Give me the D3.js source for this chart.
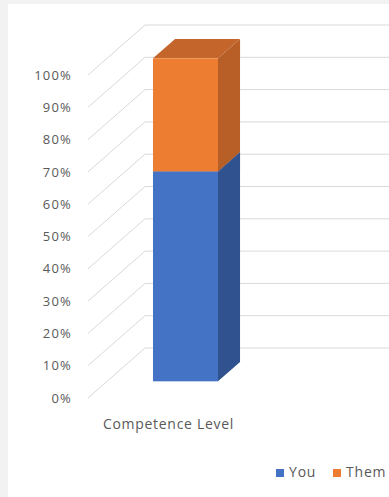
<!DOCTYPE html>
<html>
<head>
<meta charset="utf-8">
<script src="https://cdn.jsdelivr.net/npm/d3@7"></script>
<style>
html,body{margin:0;padding:0;background:#f2f2f2;}
svg{display:block;}
</style>
</head>
<body>
<svg id="chart" width="389" height="497"></svg>
<script>
const categories = ["Competence Level"];
const seriesNames = ["You", "Them"];
const youValues = [0.65];
const themValues = [0.35];
const tickValues = [0, 0.1, 0.2, 0.3, 0.4, 0.5, 0.6, 0.7, 0.8, 0.9, 1.0];

const W = 389, H = 497;
const svg = d3.select("#chart");
svg.append("rect").attr("x", 8).attr("y", 4).attr("width", W - 8).attr("height", H - 4).attr("fill", "#ffffff");

// oblique 3D projection: depth z in [0,1]
const DX = 57, DY = 50;
const y = d3.scaleLinear().domain([0, 1]).range([398, 75]);
const x = d3.scaleBand().domain(categories).range([88, 245]).paddingInner(0).paddingOuter(0.708);
const P = (px, v, z) => [px + z * DX, y(v) - z * DY];

const fmt = d3.format(".0%");
const gridColor = "#d9d9d9";
const g = svg.append("g");

// gridlines: left wall diagonals + back wall horizontals
tickValues.forEach(t => {
  const a = P(88, t, 0), b = P(88, t, 1);
  g.append("line").attr("x1", a[0]).attr("y1", a[1]).attr("x2", b[0]).attr("y2", b[1])
    .attr("stroke", gridColor).attr("stroke-width", 1);
  g.append("line").attr("x1", b[0]).attr("y1", b[1]).attr("x2", W + 5).attr("y2", b[1])
    .attr("stroke", gridColor).attr("stroke-width", 1);
});

// axis labels
const axis = d3.axisLeft(y).tickValues(tickValues).tickFormat(fmt).tickSize(0).tickPadding(0);
const ax = svg.append("g").attr("transform", "translate(72,0)").call(axis);
ax.select(".domain").remove();
ax.selectAll("text").attr("fill", "#595959").style("font-family", "'Open Sans', sans-serif")
  .style("font-size", "13px").style("letter-spacing", "1.2px");

// bars
const colors = {
  You: { front: "#4472c4", side: "#30528f", top: "#3a62a8" },
  Them: { front: "#ed7d31", side: "#b75f27", top: "#c4652b" }
};
const stackData = categories.map((c, i) => ({ cat: c, You: youValues[i], Them: themValues[i] }));
const stack = d3.stack().keys(seriesNames)(stackData);
const z0 = 1 / 3, z1 = 0.72;
const poly = pts => pts.map(p => p.join(",")).join(" ");
const bars = svg.append("g");
stack.forEach(layer => {
  const key = layer.key;
  layer.forEach(d => {
    const x0 = x(d.data.cat), x1 = x0 + x.bandwidth();
    const v0 = d[0], v1 = d[1];
    // side face
    bars.append("polygon").attr("points", poly([P(x1, v0, z0), P(x1, v0, z1), P(x1, v1, z1), P(x1, v1, z0)]))
      .attr("fill", colors[key].side);
    // top face
    bars.append("polygon").attr("points", poly([P(x0, v1, z0), P(x1, v1, z0), P(x1, v1, z1), P(x0, v1, z1)]))
      .attr("fill", colors[key].top);
    // front face
    const f0 = P(x0, v1, z0), f1 = P(x1, v0, z0);
    bars.append("rect").attr("x", f0[0]).attr("y", f0[1]).attr("width", f1[0] - f0[0]).attr("height", f1[1] - f0[1])
      .attr("fill", colors[key].front);
  });
});

// category label
svg.append("text").attr("x", x(categories[0]) + x.bandwidth() / 2 + 2).attr("y", 425)
  .attr("text-anchor", "middle").attr("dominant-baseline", "middle")
  .attr("fill", "#595959").style("font-family", "'Open Sans', sans-serif").style("font-size", "14px")
  .style("letter-spacing", "0.7px")
  .text(categories[0]);

// legend
const legend = svg.append("g").style("font-family", "'Open Sans', sans-serif").style("font-size", "14px")
  .style("letter-spacing", "0.8px");
const legendX = [276, 333];
seriesNames.forEach((s, i) => {
  legend.append("rect").attr("x", legendX[i]).attr("y", 469).attr("width", 8).attr("height", 8).attr("fill", colors[s].front);
  legend.append("text").attr("x", legendX[i] + 13).attr("y", 473).attr("dominant-baseline", "middle")
    .attr("fill", "#595959").text(s);
});
</script>
</body>
</html>
